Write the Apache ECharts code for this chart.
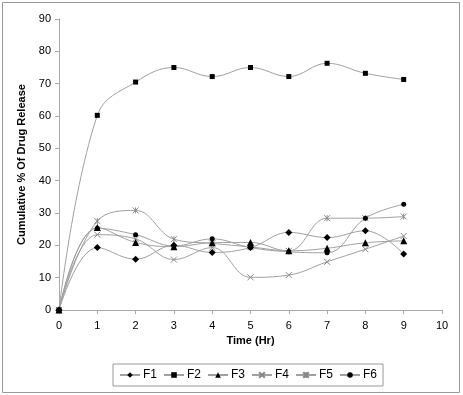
<!DOCTYPE html>
<html><head><meta charset="utf-8">
<script src="https://cdn.jsdelivr.net/npm/echarts@6/dist/echarts.min.js"></script>
<style>html,body{margin:0;padding:0;background:#fff}#c{width:463px;height:395px}</style>
</head><body><div id="c"></div>
<script>
const time = [0,1,2,3,4,5,6,7,8,9];
const F1 = [0,19.3,15.7,20.0,17.8,19.3,24.0,22.4,24.5,17.3];
const F2 = [0,60.2,70.5,75.0,72.2,75.0,72.2,76.3,73.2,71.3];
const F3 = [0,25.5,20.9,19.6,20.8,20.9,18.3,19.1,20.8,21.4];
const F4 = [0,23.3,22.0,15.6,19.3,10.1,10.8,14.9,18.8,22.9];
const F5 = [0,27.5,30.8,21.9,20.6,19.5,18.3,28.4,28.4,28.9];
const F6 = [0,25.3,23.3,19.8,22.0,19.3,18.0,17.7,28.4,32.7];
const names = ['F1','F2','F3','F4','F5','F6'];
const xTicks = [0,1,2,3,4,5,6,7,8,9,10];
const yTicks = [0,10,20,30,40,50,60,70,80,90];

const crossPath = 'path://M0,0L10,10M10,0L0,10';
const starPath = 'path://M0,0L10,10M10,0L0,10M5,0L5,10';
const sym = [
  {symbol:'diamond', size:7, fill:'#000', border:'#000', bw:0},
  {symbol:'rect', size:5, fill:'#000', border:'#000', bw:0},
  {symbol:'triangle', size:7, fill:'#000', border:'#000', bw:0},
  {symbol:crossPath, size:6, fill:'none', border:'#888', bw:1},
  {symbol:starPath, size:6, fill:'none', border:'#888', bw:1},
  {symbol:'circle', size:5, fill:'#000', border:'#000', bw:0}
];
const data = [F1,F2,F3,F4,F5,F6];
const series = names.map((n,i)=>({
  name:n, type:'line', smooth:0.4,
  data: time.map((t,j)=>[t,data[i][j]]),
  symbol:sym[i].symbol, symbolSize:sym[i].size, symbolKeepAspect:true,
  lineStyle:{color:'#a0a0a0', width:1},
  itemStyle:{color:sym[i].fill, borderColor:sym[i].border, borderWidth:sym[i].bw},
  emphasis:{disabled:true}, animation:false, z: i===3||i===4 ? 3 : 4
}));

const chart = echarts.init(document.getElementById('c'), null, {renderer:'canvas'});
chart.setOption({
  animation:false,
  backgroundColor:'#fff',
  textStyle:{fontFamily:'Liberation Sans, Arial, sans-serif'},
  graphic:[{type:'rect', shape:{x:2.5,y:2.5,width:457,height:390}, style:{fill:'none', stroke:'#999', lineWidth:1}, silent:true}],
  grid:{left:59, right:21, top:19, bottom:85},
  xAxis:{type:'value', min:0, max:10, interval:1,
    name:'Time (Hr)', nameLocation:'middle', nameGap:22,
    nameTextStyle:{fontWeight:'bold', fontSize:11, color:'#000'},
    axisLine:{lineStyle:{color:'#aaa'}}, axisTick:{show:true, length:4, lineStyle:{color:'#aaa'}},
    axisLabel:{fontSize:11, color:'#000', margin:10, formatter:v=>xTicks.includes(v)?String(v):''},
    splitLine:{show:false}},
  yAxis:{type:'value', min:0, max:90, interval:10,
    name:'Cumulative % Of Drug Release', nameLocation:'middle', nameGap:31, nameRotate:90,
    nameTextStyle:{fontWeight:'bold', fontSize:11, color:'#000'},
    axisLine:{show:true, lineStyle:{color:'#aaa'}}, axisTick:{show:true, length:4, lineStyle:{color:'#aaa'}},
    axisLabel:{fontSize:11, color:'#000', margin:8, formatter:v=>yTicks.includes(v)?String(v):''},
    splitLine:{show:false}},
  legend:{data:names, bottom:9, left:113, itemWidth:20, itemHeight:7, itemGap:6,
    borderColor:'#999', borderWidth:1, padding:[5,6,5,6],
    textStyle:{fontSize:12, color:'#000', padding:[0,0,0,-2]}},
  series:series
});
</script></body></html>
